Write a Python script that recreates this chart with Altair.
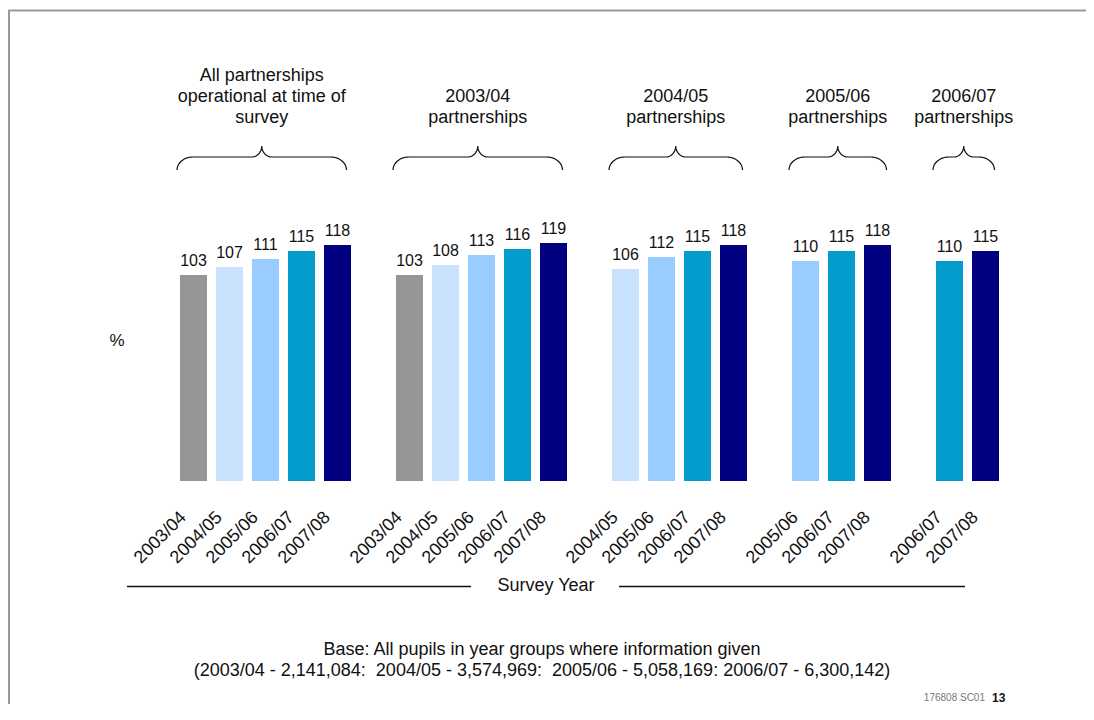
import altair as alt
import numpy as np
import pandas as pd

# ---------------- data ----------------
GROUP_TITLES = [
    "All partnerships\noperational at time of\nsurvey",
    "2003/04\npartnerships",
    "2004/05\npartnerships",
    "2005/06\npartnerships",
    "2006/07\npartnerships",
]
SURVEY_YEARS = ["2003/04", "2004/05", "2005/06", "2006/07", "2007/08"]
YEAR_COLORS = ["#969696", "#C9E3FF", "#99CCFF", "#049CCD", "#000080"]
G1_VALUES = [103, 107, 111, 115, 118]
G2_VALUES = [103, 108, 113, 116, 119]
G3_VALUES = [106, 112, 115, 118]
G4_VALUES = [110, 115, 118]
G5_VALUES = [110, 115]
GROUP_VALUES = [G1_VALUES, G2_VALUES, G3_VALUES, G4_VALUES, G5_VALUES]
Y_TITLE = "%"
X_TITLE = "Survey Year"
BASE_LINES = [
    "Base: All pupils in year groups where information given",
    "(2003/04 - 2,141,084: \u00a02004/05 - 3,574,969: \u00a02005/06 - 5,058,169: 2006/07 - 6,300,142)",
]
FOOTER_CODE = "176808 SC01"
FOOTER_PAGE = "13"

# ---------------- layout ----------------
W, H = 1078, 696
X0, PITCH = 185.5, 36.0     # px of first slot centre, px per slot
Y0, S = 473.0, 2.0          # px of value 0, px per unit
FONT = "Liberation Sans"
TXT = "#111111"
BAR_HALF = 0.375
TITLE_LAST_BASELINE = 115.0
TITLE_LINE_H = 21.0

rows, groups = [], []
slot = 0
for gi, (title, vals) in enumerate(zip(GROUP_TITLES, GROUP_VALUES)):
    yrs = SURVEY_YEARS[len(SURVEY_YEARS) - len(vals):]
    first = slot
    for yr, v in zip(yrs, vals):
        rows.append(dict(group=gi, year=yr, value=v, slot=slot))
        slot += 1
    groups.append(dict(group=gi, title=title, first=first, last=slot - 1))
    slot += 1
bars = pd.DataFrame(rows)

# braces (decoration) built from each group's slot span
BR_LEFT, BR_RIGHT = 16.5, 9.0
BR_Y = (Y0 - 149.0) / S
brace_rows, title_rows = [], []
t = np.linspace(0, np.pi / 2, 12)
for g in groups:
    xl = g["first"] - BR_LEFT / PITCH
    xr = g["last"] + BR_RIGHT / PITCH
    c = (xl + xr) / 2
    ex, ey = 16 / PITCH, 13 / S
    cx, cy = 10 / PITCH, 11 / S
    pts = []
    pts += [(xl + ex * (1 - np.cos(a)), BR_Y - ey * (1 - np.sin(a))) for a in t]
    pts += [(c - cx + cx * np.sin(a), BR_Y + cy * (1 - np.cos(a))) for a in t]
    pts += [(c + cx - cx * np.sin(a), BR_Y + cy * (1 - np.cos(a))) for a in t[::-1]]
    pts += [(xr - ex * (1 - np.cos(a)), BR_Y - ey * (1 - np.sin(a))) for a in t[::-1]]
    for i, (px, py) in enumerate(pts):
        brace_rows.append(dict(group=g["group"], i=i, bx=px, by=py))
    n_lines = g["title"].count("\n") + 1
    first_base = TITLE_LAST_BASELINE - (n_lines - 1) * TITLE_LINE_H
    title_rows.append(dict(group=g["group"], title=g["title"], tx=c, ty=(Y0 - first_base) / S))
braces = pd.DataFrame(brace_rows)
titles = pd.DataFrame(title_rows)

xs = alt.Scale(domain=[-X0 / PITCH, (W - X0) / PITCH], nice=False, zero=False)
ys = alt.Scale(domain=[-(H - Y0) / S, Y0 / S], nice=False, zero=False)

bar_layer = alt.Chart(bars).transform_calculate(
    x0=f"datum.slot - {BAR_HALF}", x1=f"datum.slot + {BAR_HALF}"
).mark_bar().encode(
    x=alt.X("x0:Q", scale=xs, axis=None),
    x2="x1:Q",
    y=alt.Y("value:Q", scale=ys, axis=None),
    y2=alt.datum(0),
    color=alt.Color("year:N", scale=alt.Scale(domain=SURVEY_YEARS, range=YEAR_COLORS), legend=None),
)

value_labels = alt.Chart(bars).mark_text(
    font=FONT, fontSize=16, color=TXT, baseline="alphabetic", dy=-9
).encode(
    x=alt.X("slot:Q", scale=xs, axis=None),
    y=alt.Y("value:Q", scale=ys, axis=None),
    text="value:Q",
)

tick_labels = alt.Chart(bars).mark_text(
    font=FONT, fontSize=18, color=TXT, angle=315, align="right", baseline="alphabetic", dx=-9
).encode(
    x=alt.X("slot:Q", scale=xs, axis=None),
    y=alt.value(504),
    text="year:N",
)

brace_layer = alt.Chart(braces).mark_line(color="#111111", strokeWidth=1.2).encode(
    x=alt.X("bx:Q", scale=xs, axis=None),
    y=alt.Y("by:Q", scale=ys, axis=None),
    detail="group:N",
    order="i:Q",
)

title_layer = alt.Chart(titles).mark_text(
    font=FONT, fontSize=18, color=TXT, baseline="alphabetic", lineBreak="\n",
    lineHeight=TITLE_LINE_H
).encode(
    x=alt.X("tx:Q", scale=xs, axis=None),
    y=alt.Y("ty:Q", scale=ys, axis=None),
    text="title:N",
)


def text_layer(text, x, y, size=16, align="center", baseline="middle", color=TXT, **kw):
    return alt.Chart(pd.DataFrame({"t": [text]})).mark_text(
        font=FONT, fontSize=size, align=align, baseline=baseline, color=color, **kw
    ).encode(text="t:N", x=alt.value(x), y=alt.value(y))


def hrule(x1, x2, y, color="#111111", width=1.3):
    return alt.Chart(pd.DataFrame({"k": [0]})).mark_rule(color=color, strokeWidth=width).encode(
        x=alt.value(x1), x2=alt.value(x2), y=alt.value(y)
    )


def vrule(x, y1, y2, color="#111111", width=1.3):
    return alt.Chart(pd.DataFrame({"k": [0]})).mark_rule(color=color, strokeWidth=width).encode(
        x=alt.value(x), y=alt.value(y1), y2=alt.value(y2)
    )


annotations = [
    hrule(0, W, 2.5, color="#999999", width=2),
    vrule(1, 2, H, color="#999999", width=2),
    text_layer(Y_TITLE, 109, 333, size=17),
    text_layer(X_TITLE, 538, 578, size=18),
    hrule(119, 463, 578.5),
    hrule(611, 957, 578.5),
    text_layer(BASE_LINES[0], 534, 642, size=18),
    text_layer(BASE_LINES[1], 534, 663, size=18),
    text_layer(FOOTER_CODE, 977, 690, size=10, align="right", color="#777777"),
    text_layer(FOOTER_PAGE, 984, 690, size=12, align="left", fontWeight="bold"),
]

chart = alt.layer(
    bar_layer, value_labels, tick_labels, brace_layer, title_layer, *annotations
).properties(
    width=W, height=H, padding=0, autosize=alt.AutoSizeParams(type="none")
).configure_view(stroke=None)

chart.save("out.html", embed_options={"renderer": "svg", "actions": False})
